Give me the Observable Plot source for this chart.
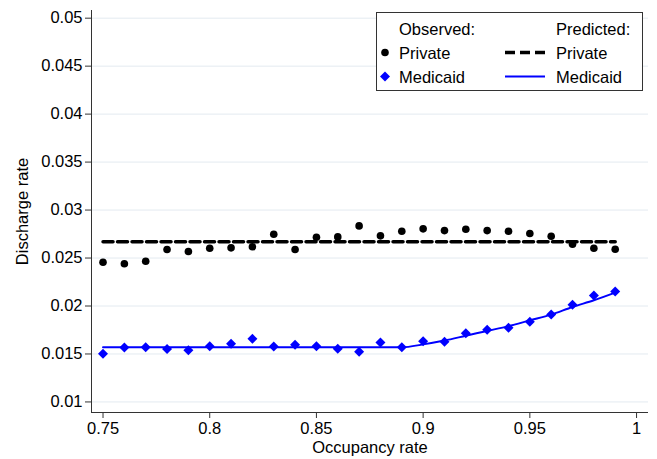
<!DOCTYPE html>
<html>
<head>
<meta charset="utf-8">
<script src="https://cdn.jsdelivr.net/npm/d3@7"></script>
<script src="https://cdn.jsdelivr.net/npm/@observablehq/plot@0.6"></script>
<style>
  html, body { margin: 0; padding: 0; background: #fff; }
  #chart { position: relative; width: 657px; height: 459px; }
</style>
</head>
<body>
<div id="chart"></div>
<script>
// Data
const occupancy = [0.75,0.76,0.77,0.78,0.79,0.80,0.81,0.82,0.83,0.84,0.85,0.86,0.87,0.88,0.89,0.90,0.91,0.92,0.93,0.94,0.95,0.96,0.97,0.98,0.99];
const privateObserved = [0.02456,0.02440,0.02467,0.02589,0.02568,0.02602,0.02606,0.02617,0.02748,0.02589,0.02717,0.02720,0.02835,0.02731,0.02779,0.02804,0.02786,0.02800,0.02786,0.02779,0.02755,0.02727,0.02644,0.02602,0.02592];
const medicaidObserved = [0.01502,0.01568,0.01570,0.01553,0.01540,0.01581,0.01606,0.01658,0.01578,0.01596,0.01581,0.01554,0.01523,0.01620,0.01570,0.01633,0.01627,0.01717,0.01752,0.01773,0.01835,0.01911,0.02012,0.02109,0.02151];
const privatePredicted = [0.0267,0.0267,0.0267,0.0267,0.0267,0.0267,0.0267,0.0267,0.0267,0.0267,0.0267,0.0267,0.0267,0.0267,0.0267,0.0267,0.0267,0.0267,0.0267,0.0267,0.0267,0.0267,0.0267,0.0267,0.0267];
const medicaidPredicted = [0.0157,0.0157,0.0157,0.0157,0.0157,0.0157,0.0157,0.0157,0.0157,0.0157,0.0157,0.0157,0.0157,0.0157,0.0157,0.0160,0.0164,0.0169,0.0174,0.0179,0.0185,0.0191,0.0199,0.0206,0.0214];
const xTicks = [0.75,0.8,0.85,0.9,0.95,1];
const yTicks = [0.01,0.015,0.02,0.025,0.03,0.035,0.04,0.045,0.05];
const xDomain = [0.7446, 1.0056];
const yDomain = [0.0089, 0.0508];
const legendTitles = ["Observed:", "Predicted:"];
const legendLabels = ["Private", "Medicaid"];

const rows = occupancy.map((x, i) => ({
  x, po: privateObserved[i], mo: medicaidObserved[i], pp: privatePredicted[i], mp: medicaidPredicted[i]
}));
const fmt = d => String(+d.toFixed(3));
const font = "Liberation Sans, Arial, sans-serif";
const fs = "16.5px";

const plot = Plot.plot({
  width: 657, height: 459,
  marginLeft: 91, marginRight: 9, marginTop: 10, marginBottom: 47,
  style: { fontFamily: font, fontSize: fs, color: "#000", background: "#fff" },
  x: { domain: xDomain },
  y: { domain: yDomain },
  marks: [
    Plot.gridY(yTicks, { stroke: "#e3eaf0", strokeOpacity: 1, strokeWidth: 1 }),
    Plot.ruleX([xDomain[0]], { stroke: "#333", strokeWidth: 1 }),
    Plot.ruleY([yDomain[0]], { stroke: "#333", strokeWidth: 1 }),
    Plot.axisY(yTicks, { tickFormat: fmt, tickSize: 6, tickPadding: 3, stroke: "#333",
      label: "Discharge rate", labelAnchor: "center", labelArrow: "none", labelOffset: 75, fontSize: fs }),
    Plot.axisX(xTicks, { tickFormat: fmt, tickSize: 6, tickPadding: 4, stroke: "#333",
      label: "Occupancy rate", labelAnchor: "center", labelArrow: "none", labelOffset: 40, fontSize: fs }),
    Plot.line(rows, { x: "x", y: "pp", stroke: "#000", strokeWidth: 3.5, strokeDasharray: "10,4.5" }),
    Plot.line(rows, { x: "x", y: "mp", stroke: "#0000ff", strokeWidth: 2, curve: "monotone-x" }),
    Plot.dot(rows, { x: "x", y: "po", r: 3.8, fill: "#000", stroke: "none" }),
    Plot.dot(rows, { x: "x", y: "mo", r: 4.5, symbol: "diamond2", fill: "#0000ff", stroke: "none" })
  ]
});
document.getElementById("chart").appendChild(plot);

// Legend drawn inside the plot SVG
const svg = d3.select(plot);
const g = svg.append("g").attr("font-family", font).attr("font-size", fs).attr("fill", "#000")
  .attr("text-anchor", "start");
g.append("rect").attr("x", 376.5).attr("y", 12.5).attr("width", 266).attr("height", 78)
  .attr("fill", "#fff").attr("stroke", "#333").attr("stroke-width", 1);
g.append("text").attr("x", 399).attr("y", 35).text(legendTitles[0]);
g.append("text").attr("x", 556).attr("y", 35).text(legendTitles[1]);
g.append("text").attr("x", 399).attr("y", 58.5).text(legendLabels[0]);
g.append("text").attr("x", 399).attr("y", 82.5).text(legendLabels[1]);
g.append("text").attr("x", 556).attr("y", 58.5).text(legendLabels[0]);
g.append("text").attr("x", 556).attr("y", 82.5).text(legendLabels[1]);
g.append("circle").attr("cx", 385).attr("cy", 52.5).attr("r", 3.8).attr("fill", "#000");
g.append("path").attr("d", d3.symbol(d3.symbolDiamond2, Math.PI * 4.5 * 4.5)()).attr("transform", "translate(385,76.5)").attr("fill", "#0000ff");
g.append("line").attr("x1", 505).attr("x2", 545).attr("y1", 52.5).attr("y2", 52.5)
  .attr("stroke", "#000").attr("stroke-width", 3.5).attr("stroke-dasharray", "10,5");
g.append("line").attr("x1", 505).attr("x2", 545).attr("y1", 76.5).attr("y2", 76.5)
  .attr("stroke", "#0000ff").attr("stroke-width", 2);
</script>
</body>
</html>
